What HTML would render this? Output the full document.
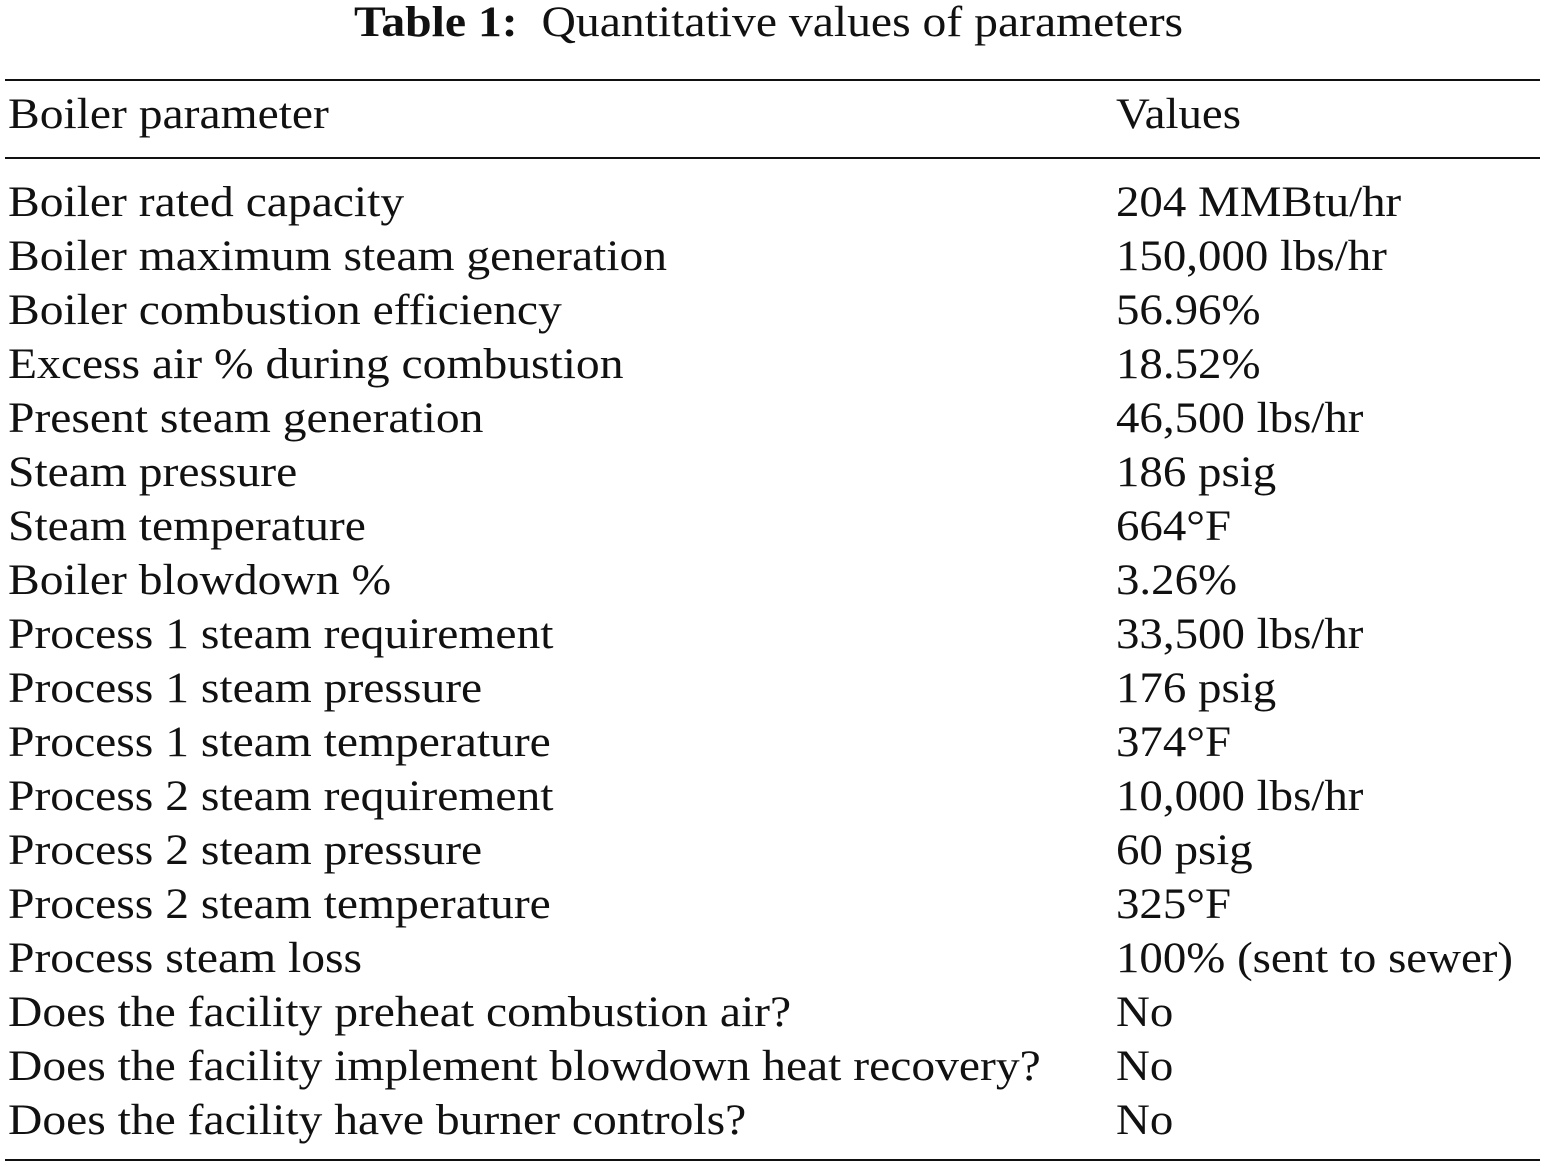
<!DOCTYPE html>
<html><head><meta charset="utf-8"><style>
html,body{margin:0;padding:0;background:#fff;}
body{width:1546px;height:1167px;position:relative;overflow:hidden;font-family:"Liberation Serif",serif;color:#111;font-size:43px;}
.t{position:absolute;left:-5px;width:1546px;text-align:center;top:0;line-height:46px;transform:scaleX(1.108);transform-origin:768px 0;}
.r{position:absolute;height:2px;background:#111;left:5px;width:1535px;}
.row{position:absolute;left:8px;height:54px;line-height:54px;white-space:nowrap;transform:scaleX(1.106);transform-origin:0 0;}
.v{position:absolute;left:1116px;height:54px;line-height:54px;white-space:nowrap;transform:scaleX(1.09);transform-origin:0 0;}
</style></head><body>
<div class="t"><b>Table 1:</b>&nbsp; Quantitative values of parameters</div>
<div class="r" style="top:79px"></div>
<div class="r" style="top:157px"></div>
<div class="r" style="top:1159px"></div>
<div class="row" style="top:88px">Boiler parameter</div><div class="v" style="top:88px">Values</div>
<div class="row" style="top:176px">Boiler rated capacity</div><div class="v" style="top:176px">204 MMBtu/hr</div>
<div class="row" style="top:230px">Boiler maximum steam generation</div><div class="v" style="top:230px">150,000 lbs/hr</div>
<div class="row" style="top:284px">Boiler combustion efficiency</div><div class="v" style="top:284px">56.96%</div>
<div class="row" style="top:338px">Excess air % during combustion</div><div class="v" style="top:338px">18.52%</div>
<div class="row" style="top:392px">Present steam generation</div><div class="v" style="top:392px">46,500 lbs/hr</div>
<div class="row" style="top:446px">Steam pressure</div><div class="v" style="top:446px">186 psig</div>
<div class="row" style="top:500px">Steam temperature</div><div class="v" style="top:500px">664°F</div>
<div class="row" style="top:554px">Boiler blowdown %</div><div class="v" style="top:554px">3.26%</div>
<div class="row" style="top:608px">Process 1 steam requirement</div><div class="v" style="top:608px">33,500 lbs/hr</div>
<div class="row" style="top:662px">Process 1 steam pressure</div><div class="v" style="top:662px">176 psig</div>
<div class="row" style="top:716px">Process 1 steam temperature</div><div class="v" style="top:716px">374°F</div>
<div class="row" style="top:770px">Process 2 steam requirement</div><div class="v" style="top:770px">10,000 lbs/hr</div>
<div class="row" style="top:824px">Process 2 steam pressure</div><div class="v" style="top:824px">60 psig</div>
<div class="row" style="top:878px">Process 2 steam temperature</div><div class="v" style="top:878px">325°F</div>
<div class="row" style="top:932px">Process steam loss</div><div class="v" style="top:932px">100% (sent to sewer)</div>
<div class="row" style="top:986px">Does the facility preheat combustion air?</div><div class="v" style="top:986px">No</div>
<div class="row" style="top:1040px">Does the facility implement blowdown heat recovery?</div><div class="v" style="top:1040px">No</div>
<div class="row" style="top:1094px">Does the facility have burner controls?</div><div class="v" style="top:1094px">No</div>
</body></html>
